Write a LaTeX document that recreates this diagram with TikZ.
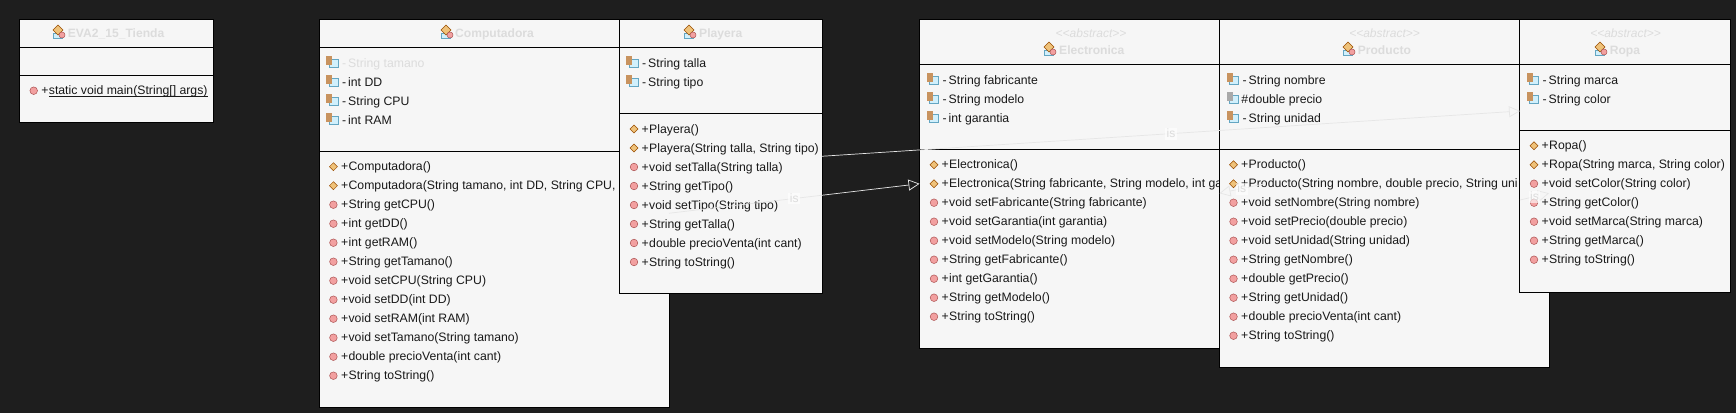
\documentclass[tikz,border=0pt]{standalone}
\usepackage{fontspec}
\setmainfont{Liberation Sans}
\usetikzlibrary{arrows.meta}

\definecolor{canvas}{HTML}{1E1E1E}
\definecolor{boxfill}{HTML}{F6F6F6}
\definecolor{faint}{HTML}{DCDCDC}
\definecolor{wire}{HTML}{E6E6E6}
\definecolor{lockbrown}{HTML}{C8935F}
\definecolor{keygray}{HTML}{A9A9A9}
\definecolor{ctorfill}{HTML}{EFC27A}
\definecolor{methfill}{HTML}{F2A0A0}

\tikzset{
  classbox/.style={draw=black, fill=boxfill, line width=0.9pt, outer sep=0pt, inner sep=0pt, anchor=north west},
  sepline/.style={draw=black, line width=0.9pt},
  rowtext/.style={anchor=west, inner sep=0pt, yshift=-1.2pt, text height=9pt, text depth=3pt, text=black!90, font=\fontsize{12.25}{14}\selectfont},
  titletext/.style={rowtext, text=faint, font=\fontsize{12.1}{14}\selectfont\bfseries},
  stereotext/.style={rowtext, anchor=center, text=faint, font=\fontsize{12}{14}\selectfont\itshape},
  methdot/.style={draw=red!35!gray, fill=methfill, line width=0.5pt},
  ctordot/.style={draw=orange!60!black, fill=ctorfill, line width=0.5pt},
  attrbox/.style={draw=cyan!50!gray, fill=cyan!18!white, line width=0.6pt},
  isarrow/.style={draw=wire, line width=0.7pt, -{Triangle[open, length=11pt, width=11pt]}},
  islabel/.style={midway, fill=white, fill opacity=0.6, text opacity=1, text=faint, inner sep=1.5pt, font=\fontsize{12}{14}\selectfont}
}

% small member icons
\newcommand{\vis}[1]{\makebox[8pt][c]{#1}}
\newcommand{\methrow}[4]{%
  \filldraw[methdot] (#2,#3) circle (3.8);
  \node[rowtext] (#1) at (#2+7,#3) {\vis{+}#4};
}
\newcommand{\ctorrow}[4]{%
  \filldraw[ctordot] (#2-4,#3) -- (#2,#3-4) -- (#2+4,#3) -- (#2,#3+4) -- cycle;
  \node[rowtext] (#1) at (#2+7,#3) {\vis{+}#4};
}
\newcommand{\attrrow}[7][black!90]{%
  \filldraw[attrbox] (#3-3,#4-4) rectangle (#3+6,#4+4);
  \fill[#2] (#3-6,#4-7) rectangle (#3,#4+2);
  \node[rowtext, text=#1] (#5) at (#3+8,#4) {\vis{#6}#7};
}
\newcommand{\classicon}[2]{%
  \filldraw[attrbox] (#1-6,#2) rectangle (#1+3,#2+5);
  \filldraw[ctordot] (#1-6,#2-3) -- (#1-1,#2-8) -- (#1+4,#2-3) -- (#1-1,#2+2) -- cycle;
  \filldraw[methdot] (#1+3,#2+2) circle (3);
}
\newcommand{\seps}[3]{%
  \draw[sepline] (#1.west |- 0,#2) -- (#1.east |- 0,#2);
  \draw[sepline] (#1.west |- 0,#3) -- (#1.east |- 0,#3);
}

\begin{document}
\begin{tikzpicture}[x=1pt, y=-1pt]
  \fill[canvas] (0,0) rectangle (1736,413);

  % main class
  \node[classbox, minimum width=193.5, minimum height=102.5] (tienda) at (19.5,19.5) {};
  \seps{tienda}{47}{75}
  \classicon{59}{33}
  \node[titletext] (tiendaname) at (67.7,33.7) {EVA2\_15\_Tienda};
  \methrow{tiendamain}{33.7}{90.7}{\underline{\smash{static void main(String[] args)}}}

  % Computadora
  \node[classbox, minimum width=349.5, minimum height=387.5] (computadora) at (319.5,19.5) {};
  \seps{computadora}{47}{151}
  \classicon{447}{33}
  \node[titletext] (computadoraname) at (455,33.7) {Computadora};
  \attrrow[faint]{lockbrown}{332}{63}{compattr0}{-}{String tamano}
  \foreach \txt [count=\n from 1] in {{int DD},{String CPU},{int RAM}} {
    \attrrow{lockbrown}{332}{63+19*\n}{compattr\n}{-}{\txt}
  }
  \foreach \txt [count=\n from 0] in {{Computadora()},{Computadora(String tamano, int DD, String CPU,}} {
    \ctorrow{compctor\n}{333.4}{166.7+19*\n}{\txt}
  }
  \foreach \txt [count=\n from 2] in {{String getCPU()},{int getDD()},{int getRAM()},{String getTamano()},{void setCPU(String CPU)},{void setDD(int DD)},{void setRAM(int RAM)},{void setTamano(String tamano)},{double precioVenta(int cant)},{String toString()}} {
    \methrow{compmeth\n}{333.4}{166.7+19*\n}{\txt}
  }

  % Playera
  \node[classbox, minimum width=202.5, minimum height=273.5] (playera) at (619.5,19.5) {};
  \seps{playera}{47}{113}
  \classicon{690}{33}
  \node[titletext] (playeraname) at (699,33.7) {Playera};
  \foreach \txt [count=\n from 0] in {{String talla},{String tipo}} {
    \attrrow{lockbrown}{632}{63+19*\n}{playattr\n}{-}{\txt}
  }
  \foreach \txt [count=\n from 0] in {{Playera()},{Playera(String talla, String tipo)}} {
    \ctorrow{playctor\n}{634}{129+19*\n}{\txt}
  }
  \foreach \txt [count=\n from 2] in {{void setTalla(String talla)},{String getTipo()},{void setTipo(String tipo)},{String getTalla()},{double precioVenta(int cant)},{String toString()}} {
    \methrow{playmeth\n}{634}{129+19*\n}{\txt}
  }

  % Electronica
  \node[classbox, minimum width=300.5, minimum height=328.5] (electronica) at (919.5,19.5) {};
  \seps{electronica}{64}{149}
  \node[stereotext] (elecstereo) at (1091,33.7) {<\kern0pt<abstract>\kern0pt>};
  \classicon{1050}{50}
  \node[titletext] (elecname) at (1059,50.7) {Electronica};
  \foreach \txt [count=\n from 0] in {{String fabricante},{String modelo},{int garantia}} {
    \attrrow{lockbrown}{932.5}{80+19*\n}{elecattr\n}{-}{\txt}
  }
  \foreach \txt [count=\n from 0] in {{Electronica()},{Electronica(String fabricante, String modelo, int ga}} {
    \ctorrow{elecctor\n}{934}{164.7+19*\n}{\txt}
  }
  \foreach \txt [count=\n from 2] in {{void setFabricante(String fabricante)},{void setGarantia(int garantia)},{void setModelo(String modelo)},{String getFabricante()},{int getGarantia()},{String getModelo()},{String toString()}} {
    \methrow{elecmeth\n}{934}{164.7+19*\n}{\txt}
  }

  % Producto
  \node[classbox, minimum width=329.5, minimum height=347.5] (producto) at (1219.5,19.5) {};
  \seps{producto}{64}{149}
  \node[stereotext] (prodstereo) at (1384.6,33.7) {<\kern0pt<abstract>\kern0pt>};
  \classicon{1349}{50}
  \node[titletext] (prodname) at (1357.6,50.7) {Producto};
  \attrrow{lockbrown}{1232.5}{80}{prodattr0}{-}{String nombre}
  \attrrow{keygray}{1232.5}{99}{prodattr1}{\#}{double precio}
  \attrrow{lockbrown}{1232.5}{118}{prodattr2}{-}{String unidad}
  \foreach \txt [count=\n from 0] in {{Producto()},{Producto(String nombre, double precio, String uni}} {
    \ctorrow{prodctor\n}{1233.5}{164.7+19*\n}{\txt}
  }
  \foreach \txt [count=\n from 2] in {{void setNombre(String nombre)},{void setPrecio(double precio)},{void setUnidad(String unidad)},{String getNombre()},{double getPrecio()},{String getUnidad()},{double precioVenta(int cant)},{String toString()}} {
    \methrow{prodmeth\n}{1233.5}{164.7+19*\n}{\txt}
  }

  % Ropa
  \node[classbox, minimum width=210.5, minimum height=272.5] (ropa) at (1519.5,19.5) {};
  \seps{ropa}{64}{130}
  \node[stereotext] (ropastereo) at (1625.6,33.7) {<\kern0pt<abstract>\kern0pt>};
  \classicon{1601}{50}
  \node[titletext] (ropaname) at (1609.6,50.7) {Ropa};
  \foreach \txt [count=\n from 0] in {{String marca},{String color}} {
    \attrrow{lockbrown}{1532.5}{80+19*\n}{ropaattr\n}{-}{\txt}
  }
  \foreach \txt [count=\n from 0] in {{Ropa()},{Ropa(String marca, String color)}} {
    \ctorrow{ropactor\n}{1534}{145.7+19*\n}{\txt}
  }
  \foreach \txt [count=\n from 2] in {{void setColor(String color)},{String getColor()},{void setMarca(String marca)},{String getMarca()},{String toString()}} {
    \methrow{ropameth\n}{1534}{145.7+19*\n}{\txt}
  }

  % inheritance lines
  \coordinate (ropatip) at (1520,111);
  \coordinate (prodtail) at (1264,184);
  \coordinate (ropatail) at (1520,200);
  \draw[isarrow] (playera.east) -- (ropatip) node[islabel] (isplayera) {is};
  \draw[isarrow] (computadora.east) -- (electronica.west) node[islabel] (iscompu) {is};
  \draw[isarrow] (prodtail) -- (producto.west) node[islabel] (iselec) {is};
  \draw[isarrow] (ropatail) -- (producto.east) node[islabel] (isropa) {is};
\end{tikzpicture}
\end{document}
